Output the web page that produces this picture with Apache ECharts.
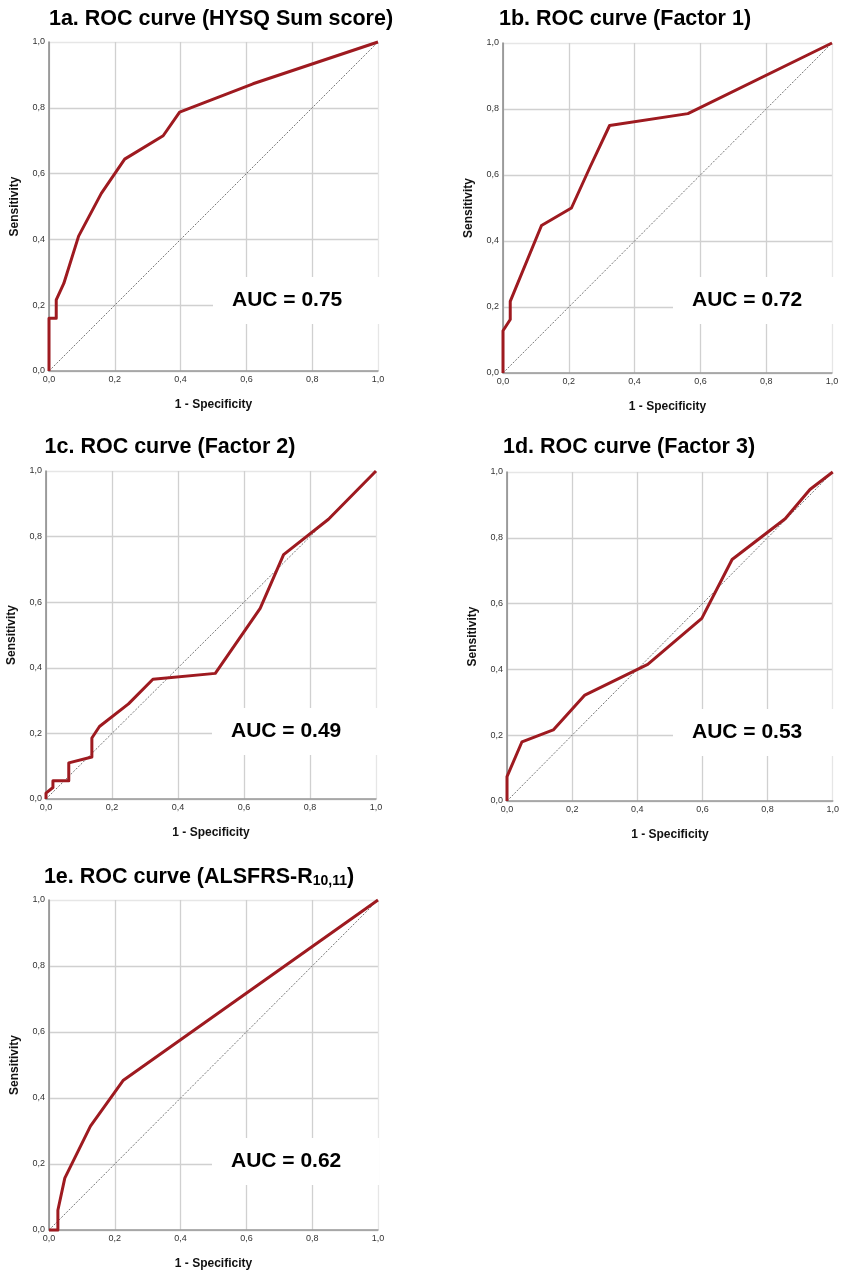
<!DOCTYPE html>
<html>
<head>
<meta charset="utf-8">
<script src="https://cdn.jsdelivr.net/npm/echarts@6/dist/echarts.min.js"></script>
<style>
html,body{margin:0;padding:0;background:#fff;}
#chart{width:842px;height:1273px;}
</style>
</head>
<body>
<div id="chart"></div>
<script>
// ---- data ----
const panelTitles = [
  '1a. ROC curve (HYSQ Sum score)',
  '1b. ROC curve (Factor 1)',
  '1c. ROC curve (Factor 2)',
  '1d. ROC curve (Factor 3)',
  '1e. ROC curve (ALSFRS-R{sub|10,11})'
];
const aucLabels = ['AUC = 0.75', 'AUC = 0.72', 'AUC = 0.49', 'AUC = 0.53', 'AUC = 0.62'];
const tickValues = [0, 0.2, 0.4, 0.6, 0.8, 1.0];
const xAxisName = '1 - Specificity';
const yAxisName = 'Sensitivity';

const fprA = [0, 0, 0.022, 0.022, 0.045, 0.09, 0.159, 0.23, 0.347, 0.397, 0.62, 1];
const tprA = [0, 0.16, 0.16, 0.216, 0.266, 0.41, 0.54, 0.644, 0.715, 0.787, 0.873, 1];

const fprB = [0, 0, 0.022, 0.022, 0.117, 0.208, 0.265, 0.324, 0.562, 1];
const tprB = [0, 0.128, 0.162, 0.217, 0.447, 0.5, 0.625, 0.75, 0.786, 1];

const fprC = [0, 0, 0.021, 0.021, 0.069, 0.069, 0.139, 0.139, 0.162, 0.25, 0.324, 0.513, 0.649, 0.72, 0.856, 1];
const tprC = [0, 0.018, 0.035, 0.056, 0.056, 0.11, 0.128, 0.186, 0.221, 0.29, 0.365, 0.383, 0.581, 0.745, 0.853, 1];

const fprD = [0, 0, 0.046, 0.142, 0.239, 0.432, 0.598, 0.691, 0.854, 0.93, 1];
const tprD = [0, 0.074, 0.18, 0.216, 0.322, 0.415, 0.555, 0.734, 0.858, 0.947, 1];

const fprE = [0, 0.027, 0.027, 0.048, 0.126, 0.225, 1];
const tprE = [0, 0, 0.06, 0.157, 0.315, 0.453, 1];

const refLine = [0, 1];

// ---- layout / style ----
const FONT = '"Liberation Sans", Arial, sans-serif';
const curves = [[fprA, tprA], [fprB, tprB], [fprC, tprC], [fprD, tprD], [fprE, tprE]];
const grids = [
  {left: 49, top: 42, width: 329, height: 329},
  {left: 503, top: 43, width: 329, height: 330},
  {left: 46, top: 471, width: 330, height: 328},
  {left: 507, top: 472, width: 328, height: 329},
  {left: 49, top: 900, width: 329, height: 330}
];
const titlePos = [
  {cx: 221, top: 8},
  {cx: 625, top: 8},
  {cx: 170, top: 436},
  {cx: 629, top: 436},
  {cx: 199, top: 866}
];
const aucPos = [
  {left: 213, top: 277},
  {left: 673, top: 277},
  {left: 212, top: 708},
  {left: 673, top: 709},
  {left: 212, top: 1138}
];

const fmt = v => v.toFixed(1).replace('.', ',');
const splitColors = ['#d0d0d0', '#d0d0d0', '#d0d0d0', '#d0d0d0', '#d0d0d0', '#e6e6e6'];

const option = {
  backgroundColor: '#fff',
  animation: false,
  title: [],
  grid: [],
  xAxis: [],
  yAxis: [],
  series: []
};

curves.forEach((c, i) => {
  option.grid.push(Object.assign({containLabel: false}, grids[i]));
  option.title.push({
    text: panelTitles[i],
    left: titlePos[i].cx,
    top: titlePos[i].top,
    textAlign: 'center',
    padding: 0,
    textStyle: {
      fontFamily: FONT, fontSize: 21.5, fontWeight: 'bold', color: '#000',
      rich: {
        sub: {fontFamily: FONT, fontSize: 14, fontWeight: 'bold', color: '#000', verticalAlign: 'bottom', padding: [8, 0, 0, 0]}
      }
    }
  });
  option.title.push({
    text: aucLabels[i],
    left: aucPos[i].left,
    top: aucPos[i].top,
    backgroundColor: '#fff',
    padding: [13, 38, 13, 19],
    textStyle: {fontFamily: FONT, fontSize: 21, fontWeight: 'bold', color: '#000'}
  });
  option.xAxis.push({
    type: 'value', gridIndex: i, min: 0, max: 1, interval: 0.2,
    name: xAxisName, nameLocation: 'middle', nameGap: 28,
    nameTextStyle: {fontFamily: FONT, fontSize: 12, fontWeight: 'bold', color: '#111'},
    axisLine: {show: true, lineStyle: {color: '#999', width: 1.5}},
    axisTick: {show: false},
    axisLabel: {fontFamily: FONT, fontSize: 9, color: '#333', margin: 4, formatter: fmt, showMinLabel: true, showMaxLabel: true},
    splitLine: {show: true, lineStyle: {color: splitColors, width: 1.3}}
  });
  option.yAxis.push({
    type: 'value', gridIndex: i, min: 0, max: 1, interval: 0.2,
    name: yAxisName, nameLocation: 'middle', nameGap: 28,
    nameTextStyle: {fontFamily: FONT, fontSize: 12, fontWeight: 'bold', color: '#111'},
    axisLine: {show: true, lineStyle: {color: '#888', width: 1.5}},
    axisTick: {show: false},
    axisLabel: {fontFamily: FONT, fontSize: 9, color: '#333', margin: 4, formatter: fmt, showMinLabel: true, showMaxLabel: true},
    splitLine: {show: true, lineStyle: {color: splitColors, width: 1.3}}
  });
  option.series.push({
    type: 'line', xAxisIndex: i, yAxisIndex: i,
    data: refLine.map(v => [v, v]),
    showSymbol: false, symbol: 'none', silent: true, clip: false, z: 3,
    lineStyle: {color: '#666', width: 0.9, type: [2, 1.5]}
  });
  option.series.push({
    type: 'line', xAxisIndex: i, yAxisIndex: i,
    data: c[0].map((x, k) => [x, c[1][k]]),
    showSymbol: false, symbol: 'none', silent: true, clip: false, z: 4,
    lineStyle: {color: '#9e1a20', width: 3, join: 'round'}
  });
});

const chart = echarts.init(document.getElementById('chart'), null, {renderer: 'canvas'});
chart.setOption(option);
</script>
</body>
</html>
